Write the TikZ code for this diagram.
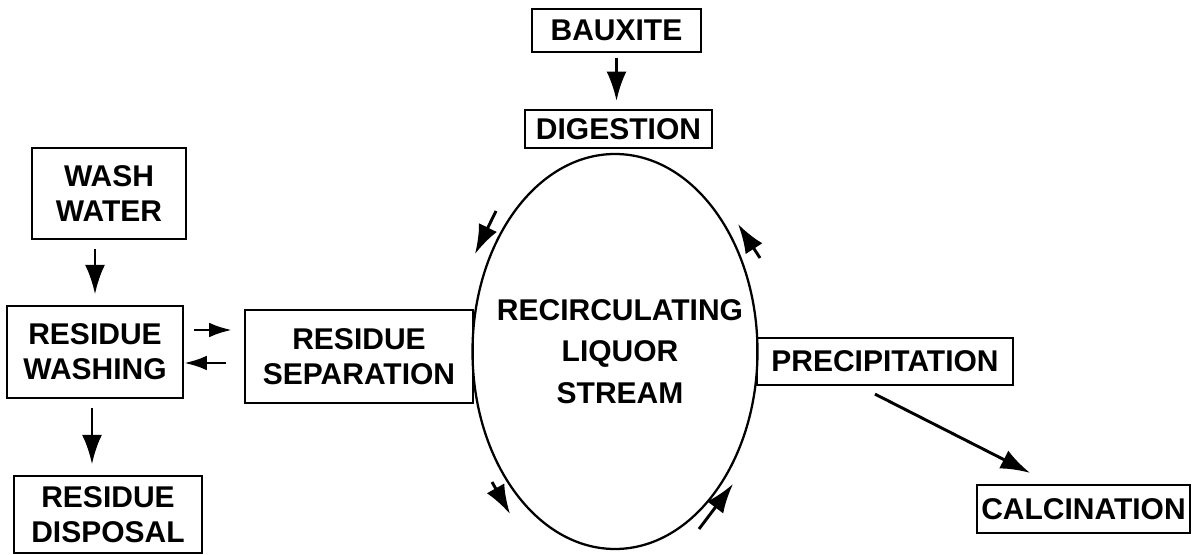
\documentclass[tikz,border=0pt]{standalone}
\usepackage{fontspec}
\setmainfont{Liberation Sans}
\usetikzlibrary{arrows.meta,shapes.geometric}

\tikzset{
  box/.style = {draw, line width=1.7pt, inner sep=0pt, align=center,
    font=\fontsize{22.5pt}{26pt}\selectfont\bfseries},
  arr/.style = {-{Latex[length=22pt, width=15pt]}, line width=2.2pt},
  arrs/.style = {-{Latex[length=17pt, width=11pt]}, line width=2.2pt},
}

\begin{document}
\begin{tikzpicture}[x=0.75pt, y=-0.75pt]
    \useasboundingbox (0,0) rectangle (1192,555);

    \node[box, minimum width=126.75pt, minimum height=32.25pt] (bauxite) at (616.5,30.5) {BAUXITE};
    \node[box, minimum width=140.25pt, minimum height=28.5pt] (digestion) at (618.5,129) {DIGESTION};

    \node[draw, ellipse, line width=1.7pt, inner sep=0pt,
      minimum width=213.75pt, minimum height=296.25pt] (stream) at (615,351.5) {};
    \node[align=center, font=\fontsize{22.5pt}{31pt}\selectfont\bfseries] (liquor)
      at ([xshift=3.75pt]stream.center) {RECIRCULATING\\LIQUOR\\STREAM};

    \node[box, minimum width=115.5pt, minimum height=68.25pt] (washwater) at (109,193.5) {WASH\\WATER};
    \node[box, minimum width=132pt, minimum height=69pt] (washing) at (95,352) {RESIDUE\\WASHING};
    \node[box, minimum width=171pt, minimum height=69.75pt] (separation) at (359,356.5) {RESIDUE\\SEPARATION};
    \node[box, minimum width=141pt, minimum height=57.75pt] (disposal) at (108,514.5) {RESIDUE\\DISPOSAL};

    \node[box, minimum width=192pt, minimum height=35.25pt] (precipitation) at (885,361.5) {PRECIPITATION};
    \node[box, minimum width=159.75pt, minimum height=36pt] (calcination) at (1083.5,509) {CALCINATION};

    \draw[arr, shorten <=4pt, shorten >=6pt] (bauxite) -- (bauxite |- digestion.north);

    \draw[arr, shorten <=7pt, shorten >=8pt] (washwater.south -| washing) -- (washing);
    \draw[arr, shorten <=7pt, shorten >=8pt] ([xshift=-2.25pt]washing.south)
      -- ([xshift=-2.25pt]washing.south |- disposal.north);

    \draw[arrs, shorten <=7.5pt, shorten >=9pt] ([yshift=16.5pt]washing.east)
      -- ([yshift=16.5pt]washing.east -| separation.west);
    \draw[arrs, shorten <=13.5pt] ([yshift=-8.25pt]washing.east -| separation.west)
      -- ([yshift=-8.25pt]washing.east);

    \draw[arr] ([shift={(-10,8)}]precipitation.south) -- ([shift={(-53.5,-11)}]calcination.north);

    % flow round the liquor stream
    \draw[arr] (496,211) -- (475,254);
    \draw[arr] (760,258) -- (738,224);
    \draw[arr] (492,482) -- (510,514);
    \draw[arr] (699,529) -- (733,484);
\end{tikzpicture}
\end{document}
